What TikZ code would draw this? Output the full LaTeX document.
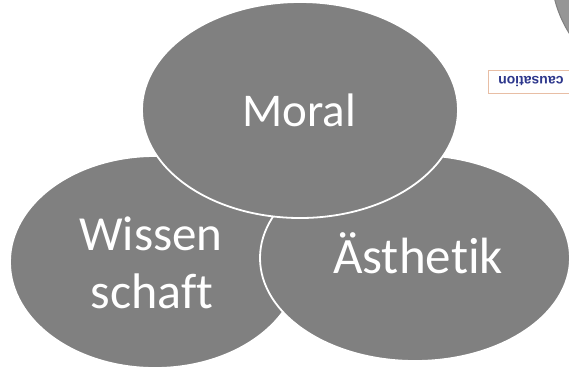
\documentclass[tikz,border=0pt]{standalone}
\usepackage{fontspec}
\setmainfont{Carlito}[Ligatures=NoCommon]
\newfontfamily\boxfont{Liberation Sans}
\usetikzlibrary{shapes.geometric}
\definecolor{blobgray}{RGB}{128,128,128}
\definecolor{ringgray}{RGB}{150,150,150}
\definecolor{peach}{RGB}{232,190,165}
\definecolor{capblue}{RGB}{45,55,140}
\begin{document}
\begin{tikzpicture}[x=1pt,y=-1pt,
  blob/.style={ellipse, fill=blobgray, draw=white, line width=1.8pt, inner sep=0pt},
  word/.style={text=white, anchor=base, inner sep=0pt}]
\useasboundingbox (0,0) rectangle (569,368);
\clip (0,0) rectangle (569,368);
\fill[white] (0,0) rectangle (569,368);
% top-right fragment
\node[circle, fill=ringgray, draw=gray, line width=1pt, minimum size=238pt, inner sep=0pt] (ring) at (670,-30) {};
\node[draw=peach, fill=white, line width=1pt, minimum width=100pt, minimum height=23pt, inner sep=0pt, anchor=west] (capbox) at (488,81.5) {};
\node[text=capblue, font=\boxfont\bfseries\fontsize{14}{14}\selectfont, rotate=180, anchor=east, inner sep=0pt] (captext) at (498,81.5) {causation};
% ellipses
\node[blob, minimum width=290pt, minimum height=212pt] (wiss) at (155,262) {};
\node[blob, minimum width=310pt, minimum height=206pt] (aest) at (415,258) {};
\node[blob, minimum width=316pt, minimum height=216pt] (moral) at (300,110) {};
% texts
\node[word, font=\fontsize{47}{47}\selectfont] (tmoral) at (299,126) {Moral};
\node[word, font=\fontsize{49}{49}\selectfont] (twiss) at (151,250) {Wissen};
\node[word, font=\fontsize{50}{50}\selectfont] (tschaft) at (152,308) {schaft};
\node[word, font=\fontsize{51}{51}\selectfont] (taest) at (418,273) {Ästhetik};
\end{tikzpicture}
\end{document}
